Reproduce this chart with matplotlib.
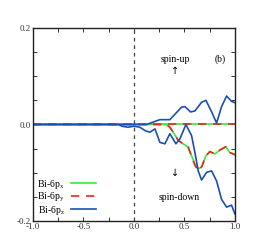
import matplotlib
matplotlib.use("Agg")
import matplotlib.pyplot as plt

plt.rcParams['font.family'] = ['Liberation Serif', 'DejaVu Serif']
plt.rcParams['mathtext.fontset'] = 'custom'
plt.rcParams['mathtext.rm'] = 'Liberation Serif'
plt.rcParams['mathtext.it'] = 'Liberation Serif'

# spin-up (flat zero for px, py)
e_up_xy = [-1.0, 1.0]
up_px = [0.0, 0.0]
up_py = [0.0, 0.0]

e_up_pz = [-1.0, 0.0, 0.125, 0.19, 0.257, 0.356, 0.472, 0.505, 0.561, 0.604,
           0.67, 0.713, 0.77, 0.819, 0.868, 0.918, 0.967, 1.0]
up_pz = [0, 0, 0, 0.005, 0.01, 0.01, 0.036, 0.037, 0.026, 0.028,
         0.046, 0.05, 0.026, 0.003, 0.037, 0.059, 0.048, 0.045]

# spin-down
e_dn_xy = [-1.0, 0.3, 0.323, 0.356, 0.389, 0.439, 0.488, 0.538, 0.571, 0.604,
           0.637, 0.67, 0.713, 0.752, 0.802, 0.851, 0.911, 0.95, 1.0]
dn_px = [0, 0, 0, -0.0056, -0.016, -0.033, -0.040, -0.047, -0.065, -0.082,
         -0.092, -0.0875, -0.065, -0.056, -0.061, -0.053, -0.046, -0.058, -0.0625]
dn_py = [0, 0, 0, -0.0056, -0.016, -0.033, -0.040, -0.047, -0.066, -0.084,
         -0.096, -0.088, -0.065, -0.056, -0.061, -0.053, -0.046, -0.058, -0.0625]

e_dn_pz = [-1.0, -0.15, -0.12, -0.06, 0.0, 0.059, 0.109, 0.158, 0.208, 0.257,
           0.307, 0.356, 0.416, 0.455, 0.515, 0.571, 0.604, 0.637, 0.670, 0.72,
           0.769, 0.819, 0.868, 0.918, 0.967, 1.0]
dn_pz = [0, 0, -0.0035, -0.0056, -0.0035, -0.0056, -0.0125, -0.016, -0.009, -0.037,
         -0.040, -0.019, -0.040, -0.030, 0.0, -0.023, -0.058, -0.096, -0.115, -0.099,
         -0.096, -0.117, -0.155, -0.171, -0.167, -0.185]

labels = ['Bi-6p$_\\mathrm{x}$', 'Bi-6p$_\\mathrm{y}$', 'Bi-6p$_\\mathrm{z}$']
green, red, blue = '#33ee33', '#ee2222', '#1a4fb5'

fig = plt.figure(figsize=(2.66, 2.49), dpi=100)
ax = fig.add_axes([0.124, 0.112, 0.759, 0.776])

lw = 1.2
ax.plot(e_up_xy, up_px, color=green, lw=lw)
ax.plot(e_up_xy, up_py, color=red, lw=lw, dashes=(5, 4))
ax.plot(e_dn_xy, dn_px, color=green, lw=lw, label=labels[0])
ax.plot(e_dn_xy, dn_py, color=red, lw=lw, dashes=(5, 4), label=labels[1])
ax.plot(e_up_pz, up_pz, color=blue, lw=lw)
ax.plot(e_dn_pz, dn_pz, color=blue, lw=lw, label=labels[2])

ax.axvline(0, color='#444444', lw=0.9, dashes=(3, 3))

ax.set_xlim(-1, 1)
ax.set_ylim(-0.2, 0.2)
ax.set_xticks([-1.0, -0.5, 0.0, 0.5, 1.0])
ax.set_xticklabels(['-1.0', '-0.5', '0.0', '0.5', '1.0'])
ax.set_xticks([-0.75, -0.25, 0.25, 0.75], minor=True)
ax.set_yticks([-0.2, 0.0, 0.2])
ax.set_yticklabels(['-0.2', '0.0', '0.2'])
ax.set_yticks([-0.15, -0.1, -0.05, 0.05, 0.1, 0.15], minor=True)
ax.tick_params(which='both', direction='in', top=True, right=True,
               labelsize=6.5, colors='#333333', pad=1.5)
ax.tick_params(which='major', length=3, width=0.7)
ax.tick_params(which='minor', length=3, width=0.7)
for s in ax.spines.values():
    s.set_linewidth(1.0)
    s.set_color('#222222')

ax.text(0.41, 0.135, 'spin-up', ha='center', va='center', fontsize=7)
ax.text(0.41, 0.11, '↑', ha='center', va='center', fontsize=7,
        family=['DejaVu Sans'])
ax.text(0.85, 0.135, '(b)', ha='center', va='center', fontsize=7)
ax.text(0.41, -0.1, '↓', ha='center', va='center', fontsize=7,
        family=['DejaVu Sans'])
ax.text(0.45, -0.152, 'spin-down', ha='center', va='center', fontsize=7)

leg = ax.legend(loc='lower left', bbox_to_anchor=(0.0, 0.0), frameon=False,
                markerfirst=False, fontsize=7, handlelength=2.6,
                labelspacing=0.0, handletextpad=0.6, borderpad=0.25,
                borderaxespad=0.2)

fig.savefig('out.png', dpi=100)
